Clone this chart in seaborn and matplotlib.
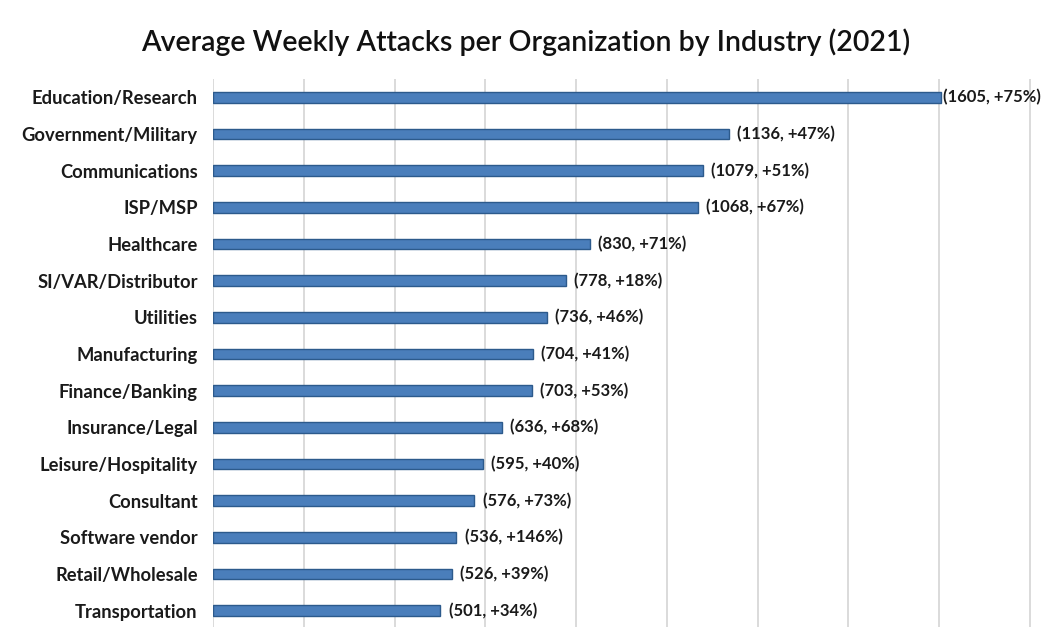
import matplotlib
matplotlib.use("Agg")
import matplotlib.pyplot as plt
import seaborn as sns
import pandas as pd

industries = ["Education/Research", "Government/Military", "Communications", "ISP/MSP",
              "Healthcare", "SI/VAR/Distributor", "Utilities", "Manufacturing",
              "Finance/Banking", "Insurance/Legal", "Leisure/Hospitality", "Consultant",
              "Software vendor", "Retail/Wholesale", "Transportation"]
attacks = [1605, 1136, 1079, 1068, 830, 778, 736, 704, 703, 636, 595, 576, 536, 526, 501]
change_pct = [75, 47, 51, 67, 71, 18, 46, 41, 53, 68, 40, 73, 146, 39, 34]
title = "Average Weekly Attacks per Organization by Industry (2021)"

df = pd.DataFrame({"industry": industries, "attacks": attacks, "change": change_pct})

sns.set_theme(style="white")
plt.rcParams["font.family"] = ["Lato", "DejaVu Sans"]

fig = plt.figure(figsize=(10.41, 6.27), dpi=100)
ax = fig.add_axes([213/1041, -2/627, 826/1041, 1 - 79/627 + 2/627])

sns.barplot(data=df, x="attacks", y="industry", orient="h", color="#4A7EBB",
            width=0.29, edgecolor="#2C5A8C", linewidth=1.0, saturation=1, ax=ax)

ax.set_xlim(0, 1820)
ax.set_ylim(14.5, -0.5)
ax.set_xticks(range(0, 1801, 200))
ax.xaxis.grid(True, color="#d4d4d4", linewidth=1.2)
ax.set_axisbelow(True)
ax.tick_params(axis="x", bottom=False, labelbottom=False)
ax.tick_params(axis="y", left=False, pad=5, labelsize=13.2)
for lab in ax.get_yticklabels():
    lab.set_fontweight("bold")
    lab.set_color("#1a1a1a")
for s in ax.spines.values():
    s.set_visible(False)
ax.set_xlabel("")
ax.set_ylabel("")

for i, (v, c) in enumerate(zip(attacks, change_pct)):
    off = 1 if i == 0 else 6
    ax.annotate(f"({v}, +{c}%)", xy=(v, i), xytext=(off, 0), textcoords="offset points",
                va="center", ha="left", fontsize=12, fontweight="bold",
                color="#1a1a1a", annotation_clip=False)

fig.text(0.505, 0.933, title, ha="center", va="center", fontsize=20.5,
         fontweight="semibold", color="#111111")

fig.savefig("out.png", dpi=100)
